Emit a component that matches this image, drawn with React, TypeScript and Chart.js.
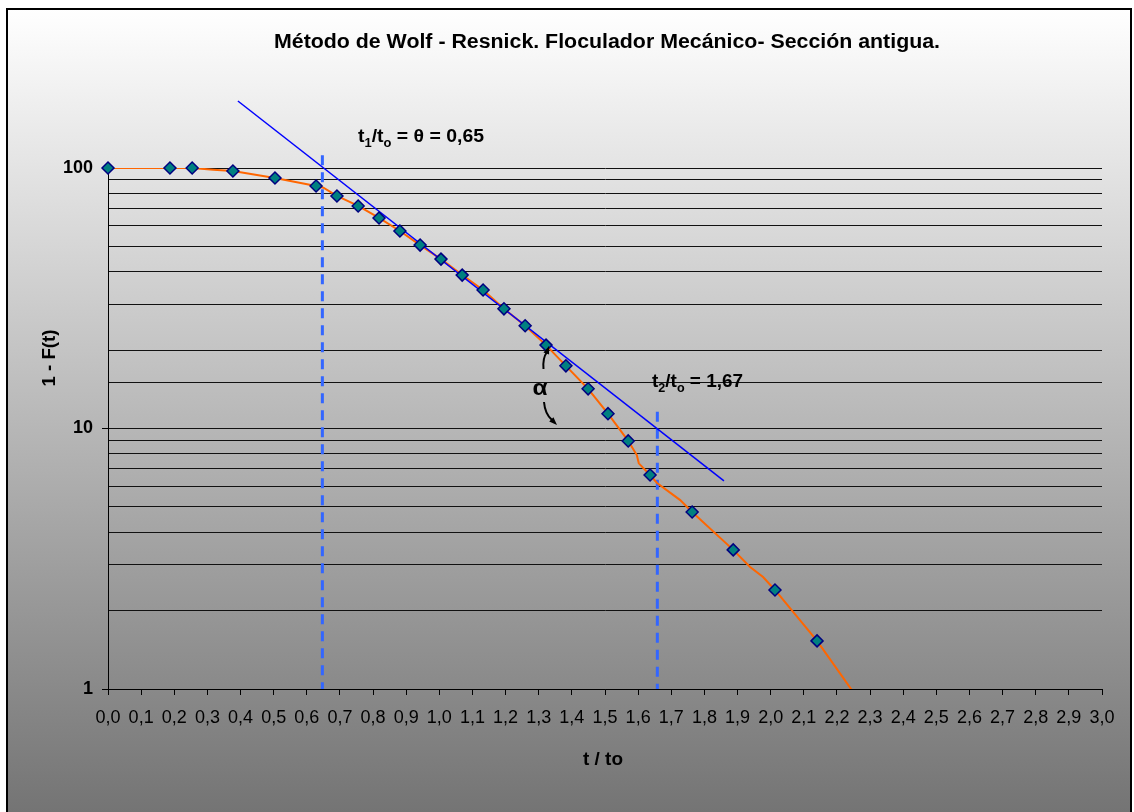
import React, { useEffect, useRef } from "react";
import { Chart, registerables } from "chart.js";

Chart.register(...registerables);

// ---- data ----
const markerX = [0, 0.187, 0.254, 0.377, 0.504, 0.628, 0.691, 0.755, 0.818, 0.881, 0.942, 1.005, 1.069, 1.132, 1.195, 1.259, 1.322, 1.382, 1.449, 1.509, 1.57, 1.636, 1.763, 1.887, 2.013, 2.14];
const markerY = [100, 100, 100, 97.4, 91.5, 85.3, 78.1, 71.5, 64.3, 57.3, 50.6, 44.7, 38.8, 34.0, 28.8, 24.8, 20.9, 17.4, 14.2, 11.4, 8.96, 6.63, 4.78, 3.42, 2.4, 1.53];

const curveX = [0, 0.187, 0.254, 0.318, 0.377, 0.504, 0.566, 0.628, 0.65, 0.691, 0.755, 0.818, 0.881, 0.942, 1.005, 1.069, 1.132, 1.195, 1.259, 1.322, 1.382, 1.449, 1.509, 1.57, 1.596, 1.602, 1.636, 1.657, 1.727, 1.763, 1.887, 1.938, 1.977, 2.013, 2.14, 2.25];
const curveY = [100, 100, 100, 98.5, 97.4, 91.5, 88.4, 85.3, 84.0, 78.1, 71.5, 64.3, 57.3, 50.6, 44.7, 38.8, 34.0, 28.8, 24.8, 20.9, 17.4, 14.2, 11.4, 8.96, 7.91, 7.35, 6.63, 6.18, 5.31, 4.78, 3.42, 2.94, 2.69, 2.4, 1.53, 0.97];

const tangentX = [0.392, 1.859];
const tangentY = [180.8, 6.29];

const theta1X = [0.647, 0.647];
const theta1Y = [112, 1];
const theta2X = [1.658, 1.658];
const theta2Y = [11.6, 1];

const xMin = 0;
const xMax = 3;
const xStep = 0.1;
const yMin = 1;
const yMax = 100;
const yLabelTicks = [1, 10, 100];

const TITLE = "Método de Wolf - Resnick. Floculador Mecánico- Sección antigua.";
const X_TITLE = "t / to";
const Y_TITLE = "1 - F(t)";
const ANNOT1 = [{ t: "t" }, { t: "1", sub: true }, { t: "/t" }, { t: "o", sub: true }, { t: " = θ = 0,65" }];
const ANNOT2 = [{ t: "t" }, { t: "2", sub: true }, { t: "/t" }, { t: "o", sub: true }, { t: " = 1,67" }];
const ALPHA = "α";

const FONT = "'Liberation Sans', Arial, Helvetica, sans-serif";

function pts(xs: number[], ys: number[]) {
  return xs.map((x, i) => ({ x, y: ys[i] }));
}

function drawRich(ctx: CanvasRenderingContext2D, parts: { t: string; sub?: boolean }[], x: number, y: number, size: number, target: number) {
  const main = `bold ${size}px ${FONT}`;
  const sub = `bold ${Math.round(size * 0.68)}px ${FONT}`;
  let w = 0;
  for (const p of parts) {
    ctx.font = p.sub ? sub : main;
    w += ctx.measureText(p.t).width;
  }
  const sx = target / w;
  ctx.save();
  ctx.translate(x, y);
  ctx.scale(sx, 1);
  let cx = 0;
  ctx.textBaseline = "alphabetic";
  ctx.textAlign = "left";
  for (const p of parts) {
    ctx.font = p.sub ? sub : main;
    ctx.fillText(p.t, cx, p.sub ? size * 0.28 : 0);
    cx += ctx.measureText(p.t).width;
  }
  ctx.restore();
}

function drawStretched(ctx: CanvasRenderingContext2D, text: string, cx: number, cy: number, font: string, target: number, rot = 0) {
  ctx.save();
  ctx.font = font;
  const w = ctx.measureText(text).width;
  ctx.translate(cx, cy);
  ctx.rotate(rot);
  ctx.scale(target / w, 1);
  ctx.textAlign = "center";
  ctx.textBaseline = "middle";
  ctx.fillStyle = "#000";
  ctx.fillText(text, 0, 0);
  ctx.restore();
}

function arrowHead(ctx: CanvasRenderingContext2D, tx: number, ty: number, ang: number) {
  const len = 8;
  const half = 3;
  ctx.beginPath();
  ctx.moveTo(tx, ty);
  ctx.lineTo(tx - len * Math.cos(ang) + half * Math.sin(ang), ty - len * Math.sin(ang) - half * Math.cos(ang));
  ctx.lineTo(tx - len * Math.cos(ang) - half * Math.sin(ang), ty - len * Math.sin(ang) + half * Math.cos(ang));
  ctx.closePath();
  ctx.fill();
}

const bgPlugin = {
  id: "bg",
  beforeDraw(chart: any) {
    const { ctx, width, height } = chart;
    ctx.save();
    ctx.fillStyle = "#fff";
    ctx.fillRect(0, 0, width, height);
    const g = ctx.createLinearGradient(0, 9, 0, 812);
    g.addColorStop(0, "#ffffff");
    g.addColorStop(1, "#747474");
    ctx.fillStyle = g;
    ctx.fillRect(7, 9, 1124, height);
    ctx.strokeStyle = "#000";
    ctx.lineWidth = 2;
    ctx.strokeRect(7, 9, 1124, height + 10);
    ctx.restore();
  },
};

const textPlugin = {
  id: "texts",
  afterDraw(chart: any) {
    const { ctx } = chart;
    ctx.save();
    ctx.fillStyle = "#000";
    // title
    ctx.font = `bold 20px ${FONT}`;
    {
      const w = ctx.measureText(TITLE).width;
      ctx.save();
      ctx.translate(274, 48);
      ctx.scale(666 / w, 1);
      ctx.textBaseline = "alphabetic";
      ctx.textAlign = "left";
      ctx.fillText(TITLE, 0, 0);
      ctx.restore();
    }
    // axis titles
    drawStretched(ctx, X_TITLE, 603, 760, `bold 18px ${FONT}`, 40);
    drawStretched(ctx, Y_TITLE, 50, 358, `bold 18px ${FONT}`, 57, -Math.PI / 2);
    // annotations
    drawRich(ctx, ANNOT1, 358, 142, 18, 126);
    drawRich(ctx, ANNOT2, 652, 387, 18, 91);
    drawStretched(ctx, ALPHA, 540, 389, `bold 22px ${FONT}`, 15);
    // arrows
    ctx.strokeStyle = "#000";
    ctx.lineWidth = 2;
    ctx.beginPath();
    ctx.moveTo(543.5, 369);
    ctx.quadraticCurveTo(542.5, 358, 547, 352);
    ctx.stroke();
    arrowHead(ctx, 549, 346, -Math.PI / 2 + 0.35);
    ctx.beginPath();
    ctx.moveTo(544, 402);
    ctx.quadraticCurveTo(545, 414, 552, 420);
    ctx.stroke();
    arrowHead(ctx, 557, 425, Math.PI / 4);
    ctx.restore();
  },
};

export default function App() {
  const ref = useRef<HTMLCanvasElement | null>(null);
  useEffect(() => {
    if (!ref.current) return;
    const chart = new Chart(ref.current, {
      type: "scatter",
      data: {
        datasets: [
          {
            label: "puntos",
            data: pts(markerX, markerY),
            showLine: false,
            pointStyle: "rectRot",
            pointRadius: 6,
            pointBackgroundColor: "#008080",
            pointBorderColor: "#000080",
            pointBorderWidth: 1.5,
            order: 0,
            clip: false,
          },
          {
            label: "tangente",
            data: pts(tangentX, tangentY),
            showLine: true,
            borderColor: "#0000FF",
            borderWidth: 1.5,
            pointRadius: 0,
            order: 1,
            clip: false,
          },
          {
            label: "curva",
            data: pts(curveX, curveY),
            showLine: true,
            borderColor: "#FF6600",
            borderWidth: 2,
            pointRadius: 0,
            order: 2,
          },
          {
            label: "theta1",
            data: pts(theta1X, theta1Y),
            showLine: true,
            borderColor: "#3366FF",
            borderWidth: 3,
            borderDash: [10, 7],
            pointRadius: 0,
            order: 3,
            clip: false,
          },
          {
            label: "theta2",
            data: pts(theta2X, theta2Y),
            showLine: true,
            borderColor: "#3366FF",
            borderWidth: 3,
            borderDash: [10, 7],
            pointRadius: 0,
            order: 3,
            clip: false,
          },
        ],
      },
      options: {
        responsive: false,
        animation: false,
        devicePixelRatio: 1,
        layout: { padding: { left: 0, top: 168, right: 32, bottom: 0 } },
        plugins: {
          legend: { display: false },
          tooltip: { enabled: false },
          title: { display: false },
        },
        scales: {
          x: {
            type: "linear",
            min: xMin,
            max: xMax,
            afterFit(scale: any) {
              scale.height = 123;
            },
            ticks: {
              stepSize: xStep,
              autoSkip: false,
              maxRotation: 0,
              minRotation: 0,
              padding: 12,
              color: "#000",
              font: { family: FONT, size: 18 },
              callback: (v: any) => Number(v).toFixed(1).replace(".", ","),
            },
            grid: {
              drawOnChartArea: false,
              drawTicks: true,
              tickLength: 6,
              tickColor: "#000",
              tickWidth: 1,
            },
            border: { color: "#000", width: 1 },
          },
          y: {
            type: "logarithmic",
            min: yMin,
            max: yMax,
            afterFit(scale: any) {
              scale.width = 108;
            },
            ticks: {
              autoSkip: false,
              padding: 9,
              color: "#000",
              font: { family: FONT, size: 18, weight: "bold" },
              callback: (v: any) => (yLabelTicks.includes(Number(v)) ? String(v) : ""),
            },
            grid: {
              color: "#111",
              lineWidth: 1,
              tickLength: 6,
              tickColor: (c: any) => (c.tick && yLabelTicks.includes(Number(c.tick.value)) ? "#000" : "rgba(0,0,0,0)"),
            },
            border: { color: "#000", width: 1 },
          },
        },
      },
      plugins: [bgPlugin, textPlugin],
    } as any);
    return () => chart.destroy();
  }, []);
  return (
    <div style={{ position: "fixed", left: 0, top: 0, width: 1134, height: 812 }}>
      <canvas ref={ref} width={1134} height={812} style={{ display: "block", width: 1134, height: 812 }} />
    </div>
  );
}
